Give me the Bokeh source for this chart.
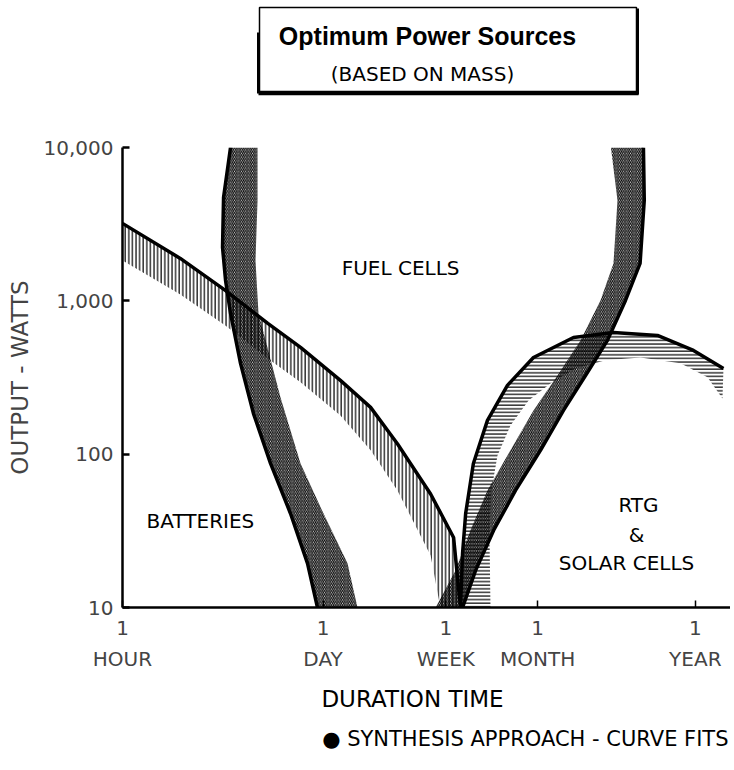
from bokeh.plotting import figure
from bokeh.models import Range1d, FixedTicker, LogAxis, ColumnDataSource
from bokeh.layouts import column
from bokeh.embed import file_html
from bokeh.resources import INLINE
from bokeh.core.properties import value

FONT = "DejaVu Sans"

# ---- axes (x = duration in hours, y = output in watts) ----
tick_hours = [1, 24, 168, 720, 8760]
tick_numbers = ["1", "1", "1", "1", "1"]
tick_names = ["HOUR", "DAY", "WEEK", "MONTH", "YEAR"]
y_ticks = [10, 100, 1000, 10000]
y_tick_labels = ["10", "100", "1,000", "10,000"]

# ---- band 1: batteries / fuel cells (vertical hatch, solid edge on top) ----
b1_edge_h = [1, 2.5, 5.1, 10, 16.8, 31.6, 51, 78, 132, 190, 212]
b1_edge_w = [3200, 1890, 1170, 712, 497, 303, 202, 117, 55, 28.6, 10]
b1_low_h = [1, 2.5, 5.1, 10, 16.8, 31.6, 51, 78, 132, 154]
b1_low_w = [1834, 1101, 691, 421, 294, 179, 106, 58, 21.8, 10]

# ---- band 2: batteries / fuel cells, steep (diagonal hatch, solid edge on left) ----
b2_edge_h = [5.54, 4.96, 4.88, 5.12, 5.54, 6.49, 7.97, 10.44, 14.33, 18.76, 21.98]
b2_edge_w = [10000, 4725, 2230, 1359, 828, 391, 184, 87, 41, 19.4, 10]
b2_far_h = [8.5, 8.5, 8.23, 8.63, 9.95, 12.23, 16.8, 24.17, 35.37, 41.43]
b2_far_w = [10000, 4519, 1834, 828, 497, 234, 87, 41, 19.4, 10]

# ---- band 3: fuel cells / RTG dome (horizontal hatch, solid edge on top) ----
b3_edge_h = [212, 219, 230, 260, 325, 446, 674, 1270, 2394, 4809, 8508, 13684]
b3_edge_w = [10, 22.5, 41, 87, 166, 281, 427, 577, 622, 595, 475, 362]
b3_low_h = [341, 336, 346, 381, 468, 623, 882, 1311, 2110, 3673, 6923, 10620, 13470]
b3_low_w = [10, 27.4, 58, 98, 154, 224, 289, 362, 409, 427, 391, 317, 231]

# ---- band 4: fuel cells / solar cells (diagonal hatch, solid edge on right) ----
b4_edge_h = [219, 269, 358, 507, 753, 1084, 1537, 2177, 2896, 3650, 3900, 3850]
b4_edge_w = [10, 17.4, 31.8, 58, 106, 193, 326, 552, 1006, 1754, 4519, 10000]
b4_far_h = [143, 196, 248, 325, 468, 674, 986, 1420, 1949, 2394, 2551, 2300]
b4_far_w = [10, 17.4, 31.8, 58, 106, 193, 326, 552, 1006, 1754, 4519, 10000]

# ---- region labels ----
region_text = ["FUEL CELLS", "BATTERIES", "RTG", "&", "SOLAR CELLS"]
region_h = [82, 3.44, 3559, 3450, 2943]
region_w = [1627, 36.9, 46.3, 29.9, 19.4]

title_text = "Optimum Power Sources"
subtitle_text = "(BASED ON MASS)"
x_title_text = "DURATION TIME"
note_text = "\u25CF SYNTHESIS APPROACH - CURVE FITS"

W = 730
LEFT = 122

def blank(height):
    f = figure(width=W, height=height, x_range=Range1d(LEFT, W), y_range=Range1d(height, 0),
               x_axis_type=None, y_axis_type=None, toolbar_location=None,
               output_backend="svg", min_border_left=LEFT, min_border_right=0,
               min_border_top=0, min_border_bottom=0)
    f.grid.visible = False
    f.outline_line_color = None
    return f

# ================= header (boxed title), coordinates = page pixels =================
head = blank(100)
head.quad(left=[259], right=[636], top=[7], bottom=[91], fill_color=None,
          line_color="black", line_width=1.5)
head.line([637, 637], [8, 94], line_color="black", line_width=3)
head.line([258, 638], [93, 93], line_color="black", line_width=3.5)
head.line([258, 258], [32, 93], line_color="black", line_width=3)
head.text(x=[427], y=[35], text=[title_text], text_align="center", text_baseline="middle",
          text_font=value("Liberation Sans"), text_font_size="25px", text_font_style="bold")
head.text(x=[422], y=[73], text=[subtitle_text], text_align="center", text_baseline="middle",
          text_font=value(FONT), text_font_size="20px")

# ================= main chart =================
p = figure(width=W, height=584, x_axis_type="log", y_axis_type="log",
           x_range=Range1d(1, 15297), y_range=Range1d(10, 10000),
           toolbar_location=None, output_backend="svg",
           min_border_left=LEFT, min_border_right=0, min_border_top=47, min_border_bottom=77)
p.grid.visible = False
p.outline_line_color = None

HS = 3.6
HW = 1.2

def band(edge_h, edge_w, far_h, far_w, pattern):
    xs = list(edge_h) + list(far_h)[::-1]
    ys = list(edge_w) + list(far_w)[::-1]
    p.patch(xs, ys, fill_color=None, line_color=None, hatch_pattern=pattern,
            hatch_color="black", hatch_scale=HS, hatch_weight=HW)
    p.line(edge_h, edge_w, line_color="black", line_width=3.5)

band(b1_edge_h, b1_edge_w, b1_low_h, b1_low_w, "|")
band(b2_edge_h, b2_edge_w, b2_far_h, b2_far_w, "\\")
band(b3_edge_h, b3_edge_w, b3_low_h, b3_low_w, "-")
band(b4_edge_h, b4_edge_w, b4_far_h, b4_far_w, "\\")

src = ColumnDataSource(dict(x=region_h, y=region_w, t=region_text))
p.text(x="x", y="y", text="t", source=src, text_align="center", text_baseline="middle",
       text_font=value(FONT), text_font_size="20px", text_color="black")

# y axis
ya = p.yaxis[0]
ya.ticker = FixedTicker(ticks=y_ticks)
ya.major_label_overrides = dict(zip(y_ticks, y_tick_labels))
ya.minor_tick_line_color = None
ya.major_tick_in = 7
ya.major_tick_out = 0
ya.major_tick_line_width = 2.5
ya.axis_line_width = 2.5
ya.major_label_standoff = 9
ya.major_label_text_font = FONT
ya.major_label_text_font_size = "20px"
ya.axis_label = "OUTPUT - WATTS"
ya.axis_label_text_font = FONT
ya.axis_label_text_font_size = "23px"
ya.axis_label_text_font_style = "normal"
ya.axis_label_standoff = 8

# x axis: numbers
xa = p.xaxis[0]
xa.ticker = FixedTicker(ticks=tick_hours)
xa.major_label_overrides = dict(zip(tick_hours, tick_numbers))
xa.minor_tick_line_color = None
xa.major_tick_in = 7
xa.major_tick_out = 0
xa.major_tick_line_width = 1.5
xa.axis_line_width = 2.5
xa.major_label_standoff = 13
xa.major_label_text_font = FONT
xa.major_label_text_font_size = "20px"

# x axis: names
xb = LogAxis(ticker=FixedTicker(ticks=tick_hours),
             major_label_overrides=dict(zip(tick_hours, tick_names)),
             axis_line_color=None, major_tick_line_color=None, minor_tick_line_color=None,
             major_label_standoff=3, major_label_text_font=FONT,
             major_label_text_font_size="20px")
p.add_layout(xb, "below")

# ================= footer: x-axis title and note =================
foot = blank(86)
foot.text(x=[412], y=[14], text=[x_title_text], text_align="center", text_baseline="middle",
          text_font=value(FONT), text_font_size="23px")
foot.text(x=[728], y=[54], text=[note_text], text_align="right", text_baseline="middle",
          text_font=value(FONT), text_font_size="21px")

layout = column(head, p, foot, spacing=0)
open("out.html", "w").write(file_html(layout, INLINE))
